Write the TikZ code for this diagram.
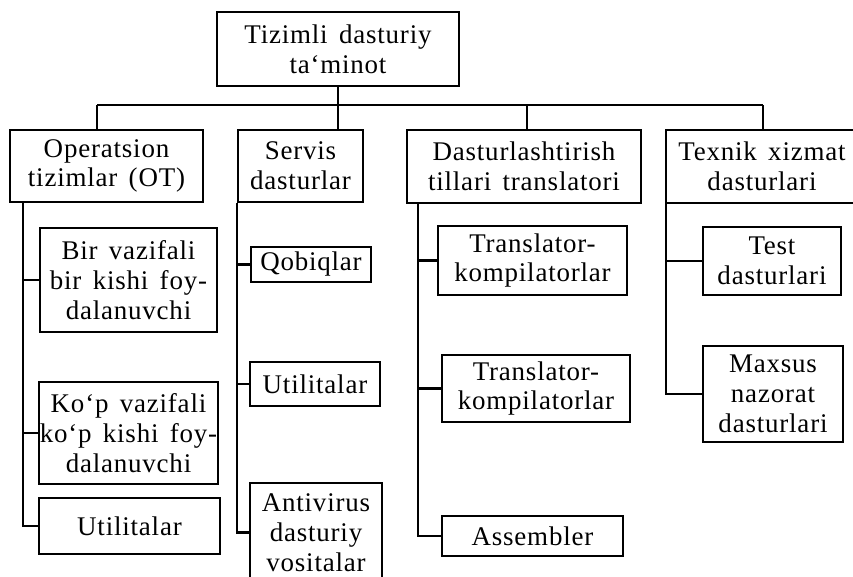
\documentclass[tikz,border=0pt]{standalone}
\usepackage{fontspec}
\setmainfont{Liberation Serif}[LetterSpace=3,WordSpace=1.5]
\usepackage{tikz}
\tikzstyle{box} = [draw, line width=1.6pt, align=center, inner sep=0pt, font=\fontsize{23}{25.5}\selectfont]
\tikzstyle{link} = [line width=1.8pt]

\begin{document}
\begin{tikzpicture}[x=0.03cm, y=-0.03cm]
                \useasboundingbox [fill=white] (0,0) rectangle (853,576);

                \node (0) [box, minimum width=7.26cm, minimum height=2.22cm] at (338,49) {Tizimli dasturiy\\ta`minot};

                \node (1) [box, minimum width=5.79cm, minimum height=2.16cm] at (106.5,166) {Operatsion\\tizimlar (OT)};
                \node (2) [box, minimum width=3.75cm, minimum height=2.16cm] at (300.5,166) {Servis\\dasturlar};
                \node (3) [box, minimum width=7.02cm, minimum height=2.19cm] at (524,166.5) {Dasturlashtirish\\tillari translatori};
                \node (4) [box, minimum width=5.76cm, minimum height=2.19cm] at (762,166.5) {Texnik xizmat\\dasturlari};

                \node (11) [box, minimum width=5.31cm, minimum height=3.12cm] at (128.5,280) {Bir vazifali\\bir kishi foy-\\dalanuvchi};
                \node (12) [box, minimum width=5.37cm, minimum height=3.06cm] at (128.5,433) {Ko‘p vazifali\\ko‘p kishi foy-\\dalanuvchi};
                \node (13) [box, minimum width=5.43cm, minimum height=1.68cm] at (129.5,526) {Utilitalar};

                \node (21) [box, minimum width=3.6cm, minimum height=1.05cm] at (311,264.5) {Qobiqlar};
                \node (22) [box, minimum width=3.9cm, minimum height=1.32cm] at (315,384) {Utilitalar};
                \node (23) [box, minimum width=3.96cm, minimum height=2.97cm] at (316,532.5) {Antivirus\\dasturiy\\vositalar};

                \node (31) [box, minimum width=5.67cm, minimum height=2.07cm] at (532.5,260.5) {Translator-\\kompilatorlar};
                \node (32) [box, minimum width=5.64cm, minimum height=2.01cm] at (536,388.5) {Translator-\\kompilatorlar};
                \node (33) [box, minimum width=5.43cm, minimum height=1.2cm] at (532.5,536) {Assembler};

                \node (41) [box, minimum width=4.14cm, minimum height=2.04cm] at (772,261) {Test\\dasturlari};
                \node (42) [box, minimum width=4.2cm, minimum height=2.88cm] at (773,394) {Maxsus\\nazorat\\dasturlari};

                % bus under the root
                \coordinate (b1) at (97,105);
                \coordinate (b3) at (527,105);
                \coordinate (b4) at (763,105);
                \draw [link] (b1) -- (b4);
                \draw [link] (0) -- (0 |- 2.north);
                \draw [link] (b1) -- (b1 |- 1.north);
                \draw [link] (b3) -- (b3 |- 3.north);
                \draw [link] (b4) -- (b4 |- 4.north);

                % rails
                \coordinate (r1) at (23,202);
                \coordinate (r3) at (418,203);
                \draw [link] (r1) |- (13);
                \draw [link] (r1 |- 11) -- (11);
                \draw [link] (r1 |- 12) -- (12);

                \draw [link] (2.south west) |- (23);
                \draw [link] (2.south west |- 21) -- (21);
                \draw [link] (2.south west |- 22) -- (22);

                \draw [link] (r3) |- (33);
                \draw [link] (r3 |- 31) -- (31);
                \draw [link] (r3 |- 32) -- (32);

                \draw [link] ([xshift=1pt]4.south west) |- (42);
                \draw [link] ([xshift=1pt]4.south west |- 41) -- (41);
            \end{tikzpicture}
\end{document}
